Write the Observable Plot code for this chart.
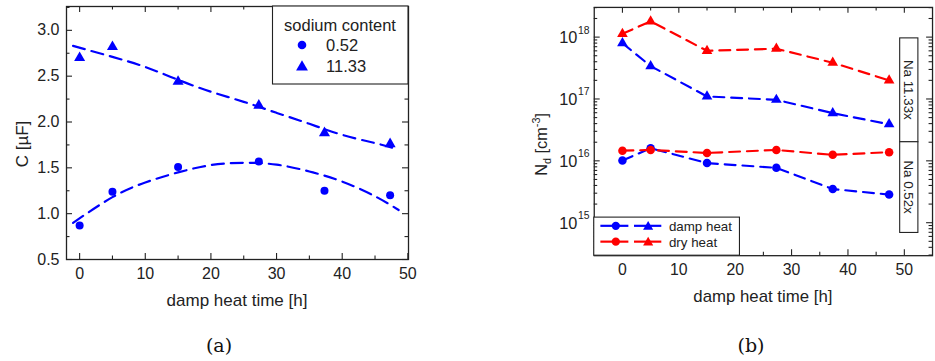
<!DOCTYPE html>
<html><head><meta charset="utf-8">
<script src="https://cdn.jsdelivr.net/npm/d3@7"></script>
<script src="https://cdn.jsdelivr.net/npm/@observablehq/plot@0.6"></script>
<style>
html,body{margin:0;padding:0;background:#fff;}
#wrap{position:relative;width:935px;height:361px;overflow:hidden;font-family:"Liberation Sans",Arial,sans-serif;}
#pa{position:absolute;left:0;top:0;}
#pb{position:absolute;left:480px;top:0;}
.cap{position:absolute;top:334px;font-family:"DejaVu Serif",serif;font-size:19px;line-height:22px;color:#111;transform:translateX(-50%);white-space:nowrap;}
</style></head><body>
<div id="wrap"><div id="pa"></div><div id="pb"></div>
<div class="cap" style="left:219px">(a)</div><div class="cap" style="left:751px">(b)</div></div>
<script>
// ---------- data: panel (a) capacitance ----------
const timesA = [0, 5, 15, 27.3, 37.3, 47.3];
const capLowNa = [0.87, 1.24, 1.51, 1.57, 1.25, 1.20];   // sodium 0.52
const capHighNa = [2.70, 2.82, 2.44, 2.18, 1.88, 1.76];  // sodium 11.33
const fitTimes = [-1, 5, 10, 15, 20, 25, 30, 35, 40, 45, 48.6];
const fitLowNa = [0.90, 1.18, 1.34, 1.45, 1.53, 1.555, 1.535, 1.46, 1.35, 1.19, 1.04];
const fitHighNa = [2.83, 2.71, 2.60, 2.46, 2.33, 2.22, 2.10, 1.98, 1.86, 1.77, 1.70];
const legendTitleA = "sodium content";
const legendLabelsA = ["0.52", "11.33"];

// ---------- data: panel (b) donor density ----------
const timesB = [0, 5, 15, 27.3, 37.3, 47.3];
const dampLowNa = [1.01e16, 1.6e16, 9.2e15, 7.7e15, 3.5e15, 2.85e15];
const dryLowNa = [1.46e16, 1.5e16, 1.34e16, 1.5e16, 1.25e16, 1.38e16];
const dampHighNa = [8.0e17, 3.4e17, 1.1e17, 9.7e16, 5.9e16, 3.9e16];
const dryHighNa = [1.13e18, 1.8e18, 6.0e17, 6.5e17, 3.85e17, 2.0e17];
const legendLabelsB = ["damp heat", "dry heat"];
const naLabels = ["Na 11.33x", "Na 0.52x"];

// ---------- ticks ----------
const xTicksMajor = [0, 10, 20, 30, 40, 50];
const xTicksMinor = [5, 15, 25, 35, 45];
const yTicksMajorA = [0.5, 1.0, 1.5, 2.0, 2.5, 3.0];
const yTicksMinorA = [0.75, 1.25, 1.75, 2.25, 2.75, 3.25];
const yTickLabelsA = ["0.5", "1.0", "1.5", "2.0", "2.5", "3.0"];
const decadesB = [1e15, 1e16, 1e17, 1e18];
const exponentsB = ["15", "16", "17", "18"];
const minorMult = [2, 3, 4, 5, 6, 7, 8, 9];

const blue = "#0000ff", red = "#ff0000", ink = "#222";
const font = "Liberation Sans, Arial, sans-serif";
const H = 320;

function rows(xs, ys) { return xs.map((x, i) => ({x, y: ys[i]})); }
function frameTicks(pw, ph, xMaj, xMin, yMaj, yMin) {
  const L = 6, l = 3.5, s = {stroke: ink, strokeWidth: 1.1};
  return [
    Plot.tickX(xMaj, {x: d => d, insetTop: ph - L, ...s}),
    Plot.tickX(xMin, {x: d => d, insetTop: ph - l, ...s}),
    Plot.tickX(xMaj, {x: d => d, insetBottom: ph - L, ...s}),
    Plot.tickX(xMin, {x: d => d, insetBottom: ph - l, ...s}),
    Plot.tickY(yMaj, {y: d => d, insetRight: pw - L, ...s}),
    Plot.tickY(yMin, {y: d => d, insetRight: pw - l, ...s}),
    Plot.tickY(yMaj, {y: d => d, insetLeft: pw - L, ...s}),
    Plot.tickY(yMin, {y: d => d, insetLeft: pw - l, ...s})
  ];
}

// ---------------- Panel (a) ----------------
{
  const W = 420, mL = 66, mR = 12, mT = 6, mB = 61;
  const pw = W - mL - mR, ph = H - mT - mB;
  const svg = Plot.plot({
    width: W, height: H, marginLeft: mL, marginRight: mR, marginTop: mT, marginBottom: mB,
    x: {domain: [-2, 50.1], axis: null}, y: {domain: [0.5, 3.26], axis: null},
    style: {fontFamily: font, fontSize: "16px", color: ink, background: "transparent", overflow: "visible"},
    marks: [
      Plot.line(rows(fitTimes, fitLowNa), {x: "x", y: "y", stroke: blue, strokeWidth: 2.2, strokeDasharray: "12,7", curve: "natural"}),
      Plot.line(rows(fitTimes, fitHighNa), {x: "x", y: "y", stroke: blue, strokeWidth: 2.2, strokeDasharray: "12,7", curve: "natural"}),
      Plot.dot(rows(timesA, capLowNa), {x: "x", y: "y", r: 4, fill: blue, symbol: "circle"}),
      Plot.dot(rows(timesA, capHighNa), {x: "x", y: "y", r: 4.1, fill: blue, symbol: "triangle"}),
      ...frameTicks(pw, ph, xTicksMajor, xTicksMinor, yTicksMajorA, yTicksMinorA),
      Plot.frame({stroke: ink, strokeWidth: 1.3}),
      Plot.axisX(xTicksMajor, {anchor: "bottom", tickSize: 0, tickPadding: 8, label: null, fontSize: 16}),
      Plot.axisY(yTicksMajorA, {anchor: "left", tickSize: 0, tickPadding: 7, label: null, fontSize: 16,
        tickFormat: d => yTickLabelsA[yTicksMajorA.indexOf(d)]})
    ]
  });
  const s = d3.select(svg);
  s.append("text").attr("x", mL + pw / 2).attr("y", 306).attr("text-anchor", "middle")
    .attr("font-size", 17).attr("fill", ink).text("damp heat time [h]");
  s.append("text").attr("transform", "translate(28,144) rotate(-90)").attr("text-anchor", "middle")
    .attr("font-size", 17).attr("fill", ink).text("C [µF]");
  const g = s.append("g").attr("font-size", 16.5).attr("fill", ink).attr("text-anchor", "start");
  g.append("rect").attr("x", 272.5).attr("y", mT).attr("width", W - mR - 272.5).attr("height", 78)
    .attr("fill", "#fff").attr("stroke", ink).attr("stroke-width", 1.1);
  g.append("text").attr("x", 340).attr("y", 31).attr("text-anchor", "middle").text(legendTitleA);
  g.append("path").attr("transform", "translate(302,45)").attr("fill", blue)
    .attr("d", d3.symbol(d3.symbolCircle, Math.PI * 4.3 * 4.3)());
  g.append("path").attr("transform", "translate(302,67)").attr("fill", blue)
    .attr("d", d3.symbol(d3.symbolTriangle, Math.PI * 4.4 * 4.4)());
  g.append("text").attr("x", 326).attr("y", 51).text(legendLabelsA[0]);
  g.append("text").attr("x", 326).attr("y", 72).text(legendLabelsA[1]);
  document.getElementById("pa").appendChild(svg);
}

// ---------------- Panel (b) ----------------
{
  const W = 460, mL = 115, mR = 3, mT = 7, mB = 62;
  const pw = W - mL - mR, ph = H - mT - mB;
  const yDom = [2.93e14, 3.02e18];
  const minorB = [1e14, ...decadesB].flatMap(d => minorMult.map(m => d * m)).filter(v => v > yDom[0] && v < yDom[1]);
  const dash = "11,7";
  const svg = Plot.plot({
    width: W, height: H, marginLeft: mL, marginRight: mR, marginTop: mT, marginBottom: mB,
    x: {domain: [-5, 55], axis: null}, y: {type: "log", domain: yDom, axis: null},
    style: {fontFamily: font, fontSize: "16px", color: ink, background: "transparent", overflow: "visible"},
    marks: [
      Plot.line(rows(timesB, dampHighNa), {x: "x", y: "y", stroke: blue, strokeWidth: 2.2, strokeDasharray: dash}),
      Plot.line(rows(timesB, dampLowNa), {x: "x", y: "y", stroke: blue, strokeWidth: 2.2, strokeDasharray: dash}),
      Plot.dot(rows(timesB, dampHighNa), {x: "x", y: "y", r: 4, fill: blue, symbol: "triangle"}),
      Plot.dot(rows(timesB, dampLowNa), {x: "x", y: "y", r: 4.3, fill: blue, symbol: "circle"}),
      Plot.line(rows(timesB, dryHighNa), {x: "x", y: "y", stroke: red, strokeWidth: 2.2, strokeDasharray: dash}),
      Plot.line(rows(timesB, dryLowNa), {x: "x", y: "y", stroke: red, strokeWidth: 2.2, strokeDasharray: dash}),
      Plot.dot(rows(timesB, dryHighNa), {x: "x", y: "y", r: 4, fill: red, symbol: "triangle"}),
      Plot.dot(rows(timesB, dryLowNa), {x: "x", y: "y", r: 4.3, fill: red, symbol: "circle"}),
      ...frameTicks(pw, ph, xTicksMajor, xTicksMinor, decadesB, minorB),
      Plot.frame({stroke: ink, strokeWidth: 1.3}),
      Plot.axisX(xTicksMajor, {anchor: "bottom", tickSize: 0, tickPadding: 8, label: null, fontSize: 16}),
      Plot.text(decadesB, {y: d => d, frameAnchor: "left", text: () => "10", textAnchor: "end", dx: -17, dy: 1, fontSize: 16.5, fill: ink}),
      Plot.text(decadesB, {y: d => d, frameAnchor: "left", text: (d, i) => exponentsB[i], textAnchor: "start", dx: -16.5, dy: -7, fontSize: 10.5, fill: ink})
    ]
  });
  const s = d3.select(svg);
  s.append("text").attr("x", mL + pw / 2).attr("y", 305).attr("text-anchor", "middle")
    .attr("font-size", 17).attr("fill", ink).text("damp heat time [h]");
  const yl = s.append("text").attr("transform", "translate(68,146) rotate(-90)").attr("text-anchor", "middle")
    .attr("font-size", 16.5).attr("fill", ink);
  yl.append("tspan").text("N");
  yl.append("tspan").attr("font-size", 11).attr("dy", 4).text("d");
  yl.append("tspan").attr("dy", -4).text(" [cm");
  yl.append("tspan").attr("font-size", 11).attr("dy", -7).text("-3");
  yl.append("tspan").attr("dy", 7).text("]");
  // legend
  const g = s.append("g").attr("font-size", 13.5).attr("fill", ink).attr("text-anchor", "start");
  g.append("rect").attr("x", mL).attr("y", 219.5).attr("width", 147.3).attr("height", H - mB - 219.5)
    .attr("fill", "#fff").attr("stroke", ink).attr("stroke-width", 1.1);
  [[blue, 228.3], [red, 244.3]].forEach(([c, y], i) => {
    g.append("line").attr("x1", 121.7).attr("x2", 150).attr("y1", y).attr("y2", y).attr("stroke", c).attr("stroke-width", 2.2);
    g.append("line").attr("x1", 155.7).attr("x2", 183.3).attr("y1", y).attr("y2", y).attr("stroke", c).attr("stroke-width", 2.2);
    g.append("path").attr("transform", `translate(137.3,${y})`).attr("fill", c)
      .attr("d", d3.symbol(d3.symbolCircle, Math.PI * 4.2 * 4.2)());
    g.append("path").attr("transform", `translate(170,${y + 1})`).attr("fill", c)
      .attr("d", d3.symbol(d3.symbolTriangle, Math.PI * 3.8 * 3.8)());
    g.append("text").attr("x", 191).attr("y", y + 5).text(legendLabelsB[i]);
  });
  // Na boxes
  const nb = s.append("g").attr("font-size", 13.5).attr("fill", ink);
  [[38.3, 143.3], [143.3, 235]].forEach(([y0, y1], i) => {
    nb.append("rect").attr("x", 424.3).attr("y", y0).attr("width", 18.4).attr("height", y1 - y0)
      .attr("fill", "#fff").attr("stroke", ink).attr("stroke-width", 1.1);
    nb.append("text").attr("transform", `translate(433.5,${(y0 + y1) / 2}) rotate(90)`)
      .attr("text-anchor", "middle").attr("dy", "0.35em").text(naLabels[i]);
  });
  document.getElementById("pb").appendChild(svg);
}
</script>
</body></html>
